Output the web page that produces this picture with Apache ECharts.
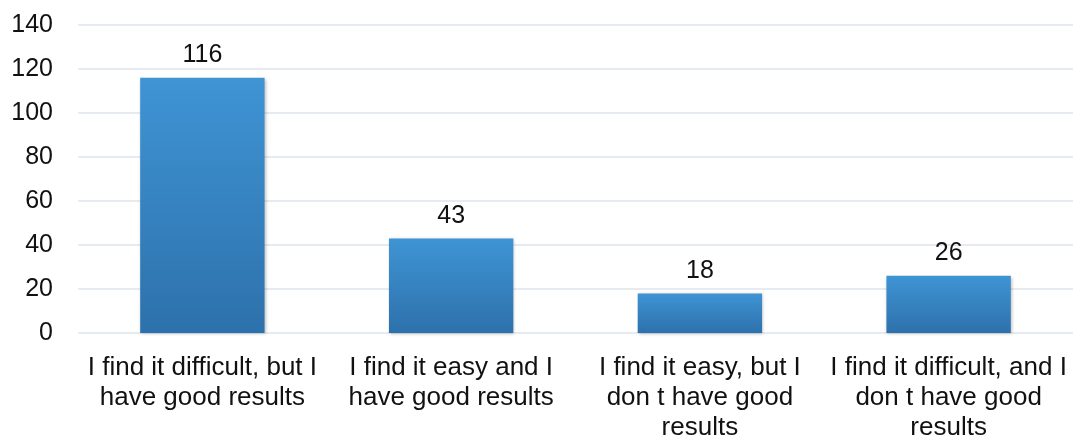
<!DOCTYPE html>
<html>
<head>
<meta charset="utf-8">
<script src="https://cdn.jsdelivr.net/npm/echarts@6/dist/echarts.min.js"></script>
<style>
html,body{margin:0;padding:0;background:#fff;}
#c{width:1084px;height:443px;}
</style>
</head>
<body>
<div id="c"></div>
<script>
const categories = [
  "I find it difficult, but I\nhave good results",
  "I find it easy and I\nhave good results",
  "I find it easy, but I\ndon t have good\nresults",
  "I find it difficult, and I\ndon t have good\nresults"
];
const values = [116, 43, 18, 26];
const yTicks = { min: 0, max: 140, interval: 20 };

const chart = echarts.init(document.getElementById('c'));
const font = "'Liberation Sans', Arial, sans-serif";
chart.setOption({
  animation: false,
  grid: { left: 78, right: 11, top: 25, bottom: 102, containLabel: false },
  xAxis: {
    type: 'category',
    data: categories,
    axisLine: { show: false },
    axisTick: { show: false },
    axisLabel: {
      interval: 0,
      color: '#111',
      fontFamily: font,
      fontSize: 26,
      lineHeight: 30,
      margin: 20,
      align: 'center'
    }
  },
  yAxis: {
    type: 'value',
    min: yTicks.min,
    max: yTicks.max,
    interval: yTicks.interval,
    axisLine: { show: false },
    axisTick: { show: false },
    splitLine: { lineStyle: { color: '#dde4ec', width: 1.5 } },
    axisLabel: { color: '#111', fontFamily: font, fontSize: 25, margin: 25 }
  },
  series: [{
    type: 'bar',
    data: values,
    barWidth: '50%',
    itemStyle: {
      color: new echarts.graphic.LinearGradient(0, 0, 0, 1, [
        { offset: 0, color: '#3f94d4' },
        { offset: 1, color: '#2d71ac' }
      ]),
      shadowColor: 'rgba(0,0,0,0.25)',
      shadowBlur: 3,
      shadowOffsetX: 1,
      shadowOffsetY: 1
    },
    label: {
      show: true,
      position: 'top',
      distance: 10,
      color: '#111',
      fontFamily: font,
      fontSize: 25
    }
  }]
});
</script>
</body>
</html>
